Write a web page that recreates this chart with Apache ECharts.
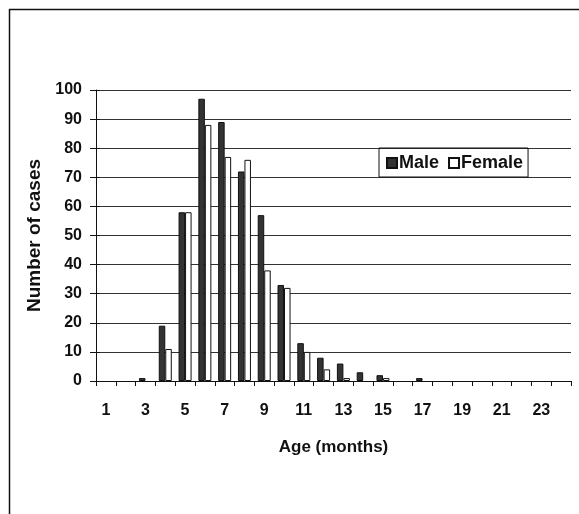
<!DOCTYPE html>
<html><head><meta charset="utf-8">
<script src="https://cdn.jsdelivr.net/npm/echarts@6/dist/echarts.min.js"></script>
<style>html,body{margin:0;padding:0;background:#fff}#c{width:579px;height:514px}</style>
</head><body><div id="c"></div>
<script>
var categories = ['1','2','3','4','5','6','7','8','9','10','11','12','13','14','15','16','17','18','19','20','21','22','23','24'];
var male   = [0,0,1,19,58,97,89,72,57,33,13,8,6,3,2,0,1,0,0,0,0,0,0,0];
var female = [0,0,0,11,58,88,77,76,38,32,10,4,1,0,1,0,0,0,0,0,0,0,0,0];
var yTicks = [0,10,20,30,40,50,60,70,80,90,100];

function hideZero(arr){ return arr.map(function(v){ return v === 0 ? '-' : v; }); }

var FONT = '"Liberation Sans", Arial, sans-serif';
var chart = echarts.init(document.getElementById('c'), null, {renderer:'canvas'});
chart.setOption({
  backgroundColor:'#fff',
  animation:false,
  graphic:[
    {type:'line', shape:{x1:9.5,y1:9,x2:9.5,y2:514}, style:{stroke:'#111',lineWidth:1.5}},
    {type:'line', shape:{x1:9,y1:9.5,x2:579,y2:9.5}, style:{stroke:'#111',lineWidth:1.5}}
  ],
  legend:{
    left:379, top:148,
    padding:[6,5,5,7],
    itemGap:9, itemWidth:10, itemHeight:10,
    icon:'rect',
    borderColor:'#111', borderWidth:1,
    textStyle:{fontFamily:FONT, fontWeight:'bold', fontSize:18, color:'#111', padding:[0,0,0,-3]},
    data:['Male','Female']
  },
  grid:{left:96, right:8, top:90, bottom:133, containLabel:false},
  xAxis:{
    type:'category', data:categories,
    name:'Age (months)', nameLocation:'middle', nameGap:58,
    nameTextStyle:{fontFamily:FONT, fontWeight:'bold', fontSize:17, color:'#111'},
    axisLine:{lineStyle:{color:'#111', width:1}},
    axisTick:{show:true, interval:0, length:5, lineStyle:{color:'#111'}},
    axisLabel:{interval:1, margin:22, fontFamily:FONT, fontWeight:'bold', fontSize:16, color:'#111'},
    splitLine:{show:false}
  },
  yAxis:[{
    type:'value', min:0, max:100, interval:10,
    name:'Number of cases', nameLocation:'middle', nameGap:52,
    nameTextStyle:{fontFamily:FONT, fontWeight:'bold', fontSize:19, color:'#111'},
    axisLine:{show:true, lineStyle:{color:'#111', width:1}},
    axisTick:{show:true, length:6, lineStyle:{color:'#111'}},
    axisLabel:{margin:14, fontFamily:FONT, fontWeight:'bold', fontSize:16, color:'#111',
      formatter:function(v){return yTicks.indexOf(v)>=0 ? String(v) : '';}},
    splitLine:{show:true, lineStyle:{color:'#333', width:1}}
  },{
    type:'value', min:0, max:100, interval:10, position:'left',
    axisLine:{show:false},
    axisTick:{show:true, inside:true, length:4, lineStyle:{color:'#111'}},
    axisLabel:{show:false},
    splitLine:{show:false}
  }],
  series:[
    {name:'Male', type:'bar', data:hideZero(male), barWidth:6.5, barGap:'0%',
     itemStyle:{color:'#333', borderColor:'#111', borderWidth:1}},
    {name:'Female', type:'bar', data:hideZero(female), barWidth:6.5, barGap:'0%',
     itemStyle:{color:'#fff', borderColor:'#111', borderWidth:1}}
  ]
});
</script></body></html>
